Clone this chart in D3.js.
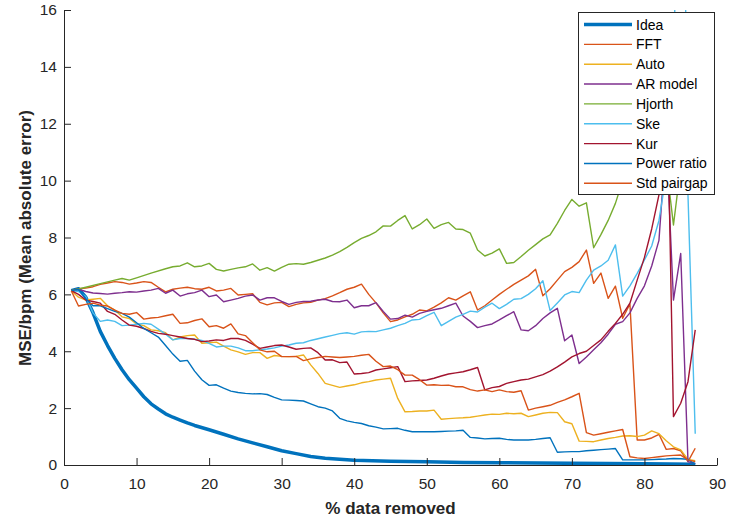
<!DOCTYPE html>
<html>
<head>
<meta charset="utf-8">
<script src="https://cdn.jsdelivr.net/npm/d3@7"></script>
<style>
  html, body { margin: 0; padding: 0; background: #fff; }
  svg { display: block; }
  text { font-family: "Liberation Sans", Arial, Helvetica, sans-serif; }
</style>
</head>
<body>
<svg id="chart" width="729" height="527"></svg>
<script>
// ---------------- data ----------------
const xTicks = [0, 10, 20, 30, 40, 50, 60, 70, 80, 90];
const yTicks = [0, 2, 4, 6, 8, 10, 12, 14, 16];
const seriesNames = ["Idea", "FFT", "Auto", "AR model", "Hjorth", "Ske", "Kur", "Power ratio", "Std pairgap"];
const seriesColors = ["#0072BD", "#D95319", "#EDB120", "#7E2F8E", "#77AC30", "#4DBEEE", "#A2142F", "#0072BD", "#D95319"];

const ideaData = [[1,6.13],[2,6.2],[3,5.9],[4,5.35],[5,4.7],[6,4.2],[7,3.75],[8,3.35],[9,3.0],[10,2.7],[11,2.4],[12,2.15],[13,1.97],[14,1.8],[15,1.68],[16,1.58],[17,1.48],[18,1.39],[20,1.24],[22,1.08],[24,0.92],[26,0.78],[28,0.64],[30,0.5],[32,0.4],[34,0.3],[36,0.24],[38,0.2],[40,0.17],[45,0.13],[50,0.11],[55,0.09],[60,0.08],[70,0.06],[80,0.04],[87,0.03]];

const fftData = [[1,6.13],[2,6.2],[3,6.22],[4,6.27],[5,6.35],[6,6.4],[7,6.45],[8,6.42],[9,6.36],[10,6.4],[11,6.45],[12,6.42],[13,6.25],[14,6.09],[15,6.18],[16,6.22],[17,6.25],[18,6.2],[19,6.18],[20,6.25],[21,6.12],[22,6.15],[23,6.21],[24,5.98],[25,6.0],[26,6.02],[27,5.72],[28,5.63],[29,5.7],[30,5.72],[31,5.57],[32,5.65],[33,5.7],[34,5.72],[35,5.8],[36,5.85],[37,5.95],[38,6.06],[39,6.18],[40,6.25],[41,6.36],[42,6.0],[43,5.7],[44,5.35],[45,5.04],[46,5.1],[47,5.21],[48,5.3],[49,5.45],[50,5.42],[51,5.55],[52,5.7],[53,5.88],[54,5.8],[55,5.95],[56,6.09],[57,5.45],[58,5.6],[59,5.8],[60,6.0],[61,6.18],[62,6.35],[63,6.5],[64,6.65],[65,6.88],[66,5.95],[67,6.2],[68,6.5],[69,6.8],[70,6.95],[71,7.15],[72,7.56],[73,6.39],[74,6.75],[75,5.86],[76,6.29],[77,5.16],[78,5.66],[79,0.88],[80,0.88],[81,0.95],[82,1.08],[83,0.55],[84,0.58],[85,0.5],[86,0.12],[87,0.59]];

const autoData = [[1,6.13],[2,5.9],[3,5.8],[4,5.83],[5,5.86],[6,5.6],[7,5.45],[8,5.21],[9,5.15],[10,4.96],[11,4.9],[12,4.75],[13,4.72],[14,4.65],[15,4.4],[16,4.5],[17,4.55],[18,4.57],[19,4.28],[20,4.3],[21,4.32],[22,4.18],[23,4.05],[24,3.98],[25,3.89],[26,3.95],[27,3.95],[28,3.75],[29,3.85],[30,3.82],[31,3.81],[32,3.82],[33,3.87],[34,3.52],[35,3.22],[36,2.87],[37,2.8],[38,2.73],[39,2.78],[40,2.82],[41,2.89],[42,2.93],[43,2.99],[44,3.02],[45,3.05],[46,2.34],[47,1.87],[48,1.88],[49,1.9],[50,1.9],[51,1.93],[52,1.61],[53,1.63],[54,1.65],[55,1.66],[56,1.68],[57,1.72],[58,1.76],[59,1.79],[60,1.78],[61,1.82],[62,1.8],[63,1.82],[64,1.7],[65,1.76],[66,1.82],[67,1.85],[68,1.84],[69,1.52],[70,1.45],[71,0.84],[72,0.83],[73,0.82],[74,0.88],[75,0.93],[76,0.97],[77,1.02],[78,1.03],[79,1.0],[80,1.05],[81,1.2],[82,1.1],[83,0.85],[84,0.64],[85,0.53],[86,0.2],[87,0.15]];

const arData = [[1,6.13],[2,6.18],[3,6.1],[4,6.05],[5,6.03],[6,6.01],[7,6.04],[8,6.06],[9,6.09],[10,6.08],[11,6.12],[12,6.15],[13,6.21],[14,6.04],[15,6.15],[16,5.94],[17,6.02],[18,6.06],[19,6.15],[20,5.92],[21,5.98],[22,5.74],[23,5.8],[24,5.86],[25,5.94],[26,5.98],[27,5.8],[28,5.88],[29,5.88],[30,5.75],[31,5.65],[32,5.72],[33,5.75],[34,5.76],[35,5.8],[36,5.83],[37,5.75],[38,5.74],[39,5.8],[40,5.53],[41,5.6],[42,5.6],[43,5.71],[44,5.4],[45,5.13],[46,5.15],[47,5.27],[48,5.2],[49,5.33],[50,5.4],[51,5.46],[52,5.51],[53,5.6],[54,5.69],[55,5.24],[56,5.05],[57,4.83],[58,4.9],[59,4.96],[60,5.1],[61,5.25],[62,5.39],[63,4.75],[64,4.72],[65,4.9],[66,5.15],[67,5.35],[68,5.51],[69,4.37],[70,4.57],[71,3.57],[72,3.8],[73,4.05],[74,4.3],[75,4.6],[76,4.95],[77,5.04],[78,5.35],[79,5.86],[80,6.3],[81,7.0],[82,7.9],[83,11.5],[84,5.8],[85,7.44],[86,0.12],[87,0.05]];

const hjorthData = [[1,6.13],[3,6.25],[5,6.38],[7,6.5],[8,6.56],[9,6.5],[10,6.58],[12,6.75],[14,6.9],[15,6.97],[16,7.0],[17,7.11],[18,6.97],[19,7.0],[20,7.09],[21,6.88],[22,6.82],[23,6.88],[24,6.93],[25,6.97],[26,7.07],[27,6.85],[28,6.94],[29,6.82],[30,6.95],[31,7.06],[32,7.08],[33,7.06],[34,7.12],[35,7.2],[36,7.28],[37,7.38],[38,7.5],[39,7.65],[40,7.82],[41,7.97],[42,8.07],[43,8.2],[44,8.41],[45,8.40],[46,8.6],[47,8.77],[48,8.30],[49,8.45],[50,8.65],[51,8.32],[52,8.45],[53,8.53],[54,8.30],[55,8.28],[56,8.15],[57,7.56],[58,7.35],[59,7.45],[60,7.6],[61,7.09],[62,7.12],[63,7.33],[64,7.55],[65,7.75],[66,7.95],[67,8.09],[68,8.5],[69,8.95],[70,9.34],[71,9.1],[72,9.22],[73,7.64],[74,8.1],[75,8.6],[76,9.2],[77,10.0],[78,11.5],[79,13],[80,15],[81,14],[82,12],[83,10.6],[84,8.44],[85,10.5],[86,13],[87,15]];

const skeData = [[1,6.13],[2,6.1],[3,5.92],[4,5.35],[5,5.05],[6,5.1],[7,5.05],[8,4.9],[9,4.92],[10,4.95],[11,4.98],[12,4.95],[13,4.78],[14,4.6],[15,4.4],[16,4.45],[17,4.45],[18,4.42],[19,4.38],[20,4.28],[21,4.15],[22,4.18],[23,4.18],[24,4.12],[25,4.02],[26,4.02],[27,4.05],[28,4.08],[29,4.12],[30,4.18],[31,4.22],[32,4.28],[33,4.3],[34,4.38],[35,4.44],[36,4.5],[37,4.56],[38,4.62],[39,4.65],[40,4.6],[41,4.68],[42,4.7],[43,4.69],[44,4.75],[45,4.81],[46,4.9],[47,4.98],[48,5.1],[49,5.12],[50,5.25],[51,5.37],[52,4.9],[53,5.05],[54,5.2],[55,5.3],[56,5.41],[57,5.38],[58,5.55],[59,5.69],[60,5.5],[61,5.65],[62,5.83],[63,5.85],[64,6.0],[65,6.2],[66,6.48],[67,5.43],[68,5.7],[69,5.98],[70,6.1],[71,6.06],[72,6.5],[73,6.85],[74,7.0],[75,7.2],[76,7.74],[77,5.94],[78,6.3],[79,6.74],[80,7.21],[81,7.7],[82,8.6],[83,10.2],[84,13],[85,30],[86,9.5],[87,1.1]];

const kurData = [[1,6.13],[2,6.0],[3,5.8],[4,5.75],[5,5.69],[6,5.4],[7,5.3],[8,5.1],[9,4.92],[10,4.88],[11,4.8],[12,4.7],[13,4.63],[14,4.6],[15,4.55],[16,4.5],[17,4.45],[18,4.42],[19,4.34],[20,4.36],[21,4.4],[22,4.38],[23,4.45],[24,4.45],[25,4.38],[26,4.25],[27,4.1],[28,4.15],[29,4.2],[30,4.22],[31,4.15],[32,4.07],[33,4.1],[34,4.12],[35,3.95],[36,3.69],[37,3.7],[38,3.6],[39,3.62],[40,3.2],[41,3.22],[42,3.25],[43,3.34],[44,3.38],[45,3.42],[46,3.46],[47,2.93],[48,2.96],[49,2.97],[50,2.99],[51,3.05],[52,3.13],[53,3.2],[54,3.24],[55,3.28],[56,3.35],[57,3.43],[58,2.64],[59,2.72],[60,2.76],[61,2.87],[62,2.93],[63,2.99],[64,3.02],[65,3.1],[66,3.18],[67,3.3],[68,3.45],[69,3.62],[70,3.8],[71,3.92],[72,4.0],[73,4.2],[74,4.4],[75,4.7],[76,4.98],[77,5.3],[78,5.69],[79,6.5],[80,7.3],[81,8.3],[82,9.5],[83,15],[84,1.7],[85,2.17],[86,2.93],[87,4.75]];

const powerData = [[1,6.13],[2,6.18],[3,5.85],[4,5.6],[5,5.6],[6,5.5],[7,5.4],[8,5.33],[9,5.2],[10,5.0],[11,4.8],[12,4.65],[13,4.5],[14,4.2],[15,3.9],[16,3.65],[17,3.68],[18,3.3],[19,3.0],[20,2.8],[21,2.82],[22,2.7],[23,2.6],[24,2.55],[25,2.52],[26,2.5],[27,2.51],[28,2.48],[29,2.38],[30,2.29],[31,2.28],[32,2.27],[33,2.25],[34,2.15],[35,2.05],[36,2.0],[37,1.9],[38,1.64],[39,1.55],[40,1.5],[41,1.46],[42,1.38],[43,1.33],[44,1.27],[45,1.28],[46,1.29],[47,1.22],[48,1.17],[49,1.17],[50,1.17],[51,1.17],[52,1.18],[53,1.19],[54,1.2],[55,1.22],[56,0.97],[57,0.95],[58,0.92],[59,0.93],[60,0.94],[61,0.9],[62,0.88],[63,0.88],[64,0.88],[65,0.9],[66,0.93],[67,0.96],[68,0.45],[69,0.46],[70,0.47],[71,0.47],[72,0.5],[73,0.52],[74,0.54],[75,0.56],[76,0.58],[77,0.18],[78,0.18],[79,0.18],[80,0.18],[81,0.19],[82,0.2],[83,0.21],[84,0.23],[85,0.22],[86,0.2],[87,0.02]];

const stdData = [[1,6.13],[2,5.59],[3,5.65],[4,5.69],[5,5.62],[6,5.59],[7,5.45],[8,5.33],[9,5.3],[10,5.36],[11,5.13],[12,5.17],[13,5.19],[14,5.25],[15,5.3],[16,4.98],[17,5.0],[18,5.08],[19,5.14],[20,4.86],[21,4.9],[22,4.81],[23,4.96],[24,4.61],[25,4.55],[26,4.3],[27,4.05],[28,3.98],[29,4.0],[30,3.81],[31,3.81],[32,3.82],[33,3.67],[34,3.73],[35,3.78],[36,3.82],[37,3.8],[38,3.78],[39,3.8],[40,3.82],[41,3.86],[42,3.89],[43,3.65],[44,3.46],[45,3.48],[46,3.35],[47,3.16],[48,3.16],[49,3.0],[50,2.81],[51,2.82],[52,2.8],[53,2.81],[54,2.75],[55,2.75],[56,2.65],[57,2.6],[58,2.64],[59,2.58],[60,2.64],[61,2.58],[62,2.56],[63,2.61],[64,1.93],[65,2.0],[66,2.05],[67,2.1],[68,2.2],[69,2.29],[70,2.4],[71,2.52],[72,1.14],[73,1.05],[74,1.1],[75,1.15],[76,1.2],[77,1.25],[78,0.29],[79,0.25],[80,0.23],[81,0.26],[82,0.29],[83,0.32],[84,0.34],[85,0.35],[86,0.18],[87,0.12]];

const seriesData = [ideaData, fftData, autoData, arData, hjorthData, skeData, kurData, powerData, stdData];
const seriesWidths = [3.5, 1.4, 1.4, 1.4, 1.4, 1.4, 1.4, 1.4, 1.4];

// ---------------- drawing ----------------
const svg = d3.select("#chart");
const axisColor = "#262626";
const x = d3.scaleLinear().domain([0, 90]).range([64, 717]);
const y = d3.scaleLinear().domain([0, 16]).range([465, 10]);

svg.append("defs").append("clipPath").attr("id", "plotclip")
  .append("rect").attr("x", 64).attr("y", 10).attr("width", 653).attr("height", 455);

const plot = svg.append("g").attr("clip-path", "url(#plotclip)");
const line = d3.line().x(d => x(d[0])).y(d => y(d[1]));

seriesData.forEach((data, i) => {
  plot.append("path")
    .datum(data)
    .attr("d", line)
    .attr("fill", "none")
    .attr("stroke", seriesColors[i])
    .attr("stroke-width", seriesWidths[i])
    .attr("stroke-linejoin", "round");
});

// axes
const xAxis = svg.append("g").attr("transform", "translate(0,465)")
  .call(d3.axisBottom(x).tickValues(xTicks).tickSizeInner(-7).tickSizeOuter(0).tickPadding(13));
const yAxis = svg.append("g").attr("transform", "translate(64,0)")
  .call(d3.axisLeft(y).tickValues(yTicks).tickSizeInner(-7).tickSizeOuter(0).tickPadding(7));

[xAxis, yAxis].forEach(g => {
  g.select(".domain").attr("stroke", axisColor).attr("stroke-width", 1);
  g.selectAll(".tick line").attr("stroke", axisColor).attr("stroke-width", 1);
  g.selectAll(".tick text").attr("fill", axisColor)
    .style("font-size", "15.5px").style("font-family", "Liberation Sans, Arial, sans-serif");
});

// axis labels
svg.append("text")
  .attr("x", 390.5).attr("y", 514)
  .attr("text-anchor", "middle")
  .attr("fill", axisColor)
  .style("font-size", "17px").style("font-weight", "bold")
  .text("% data removed");

svg.append("text")
  .attr("transform", "translate(31,238) rotate(-90)")
  .attr("text-anchor", "middle")
  .attr("fill", axisColor)
  .style("font-size", "17px").style("font-weight", "bold")
  .text("MSE/bpm (Mean absolute error)");

// legend
const legend = svg.append("g");
legend.append("rect")
  .attr("x", 578.5).attr("y", 12.5).attr("width", 136).attr("height", 182)
  .attr("fill", "#fff").attr("stroke", axisColor).attr("stroke-width", 1);

seriesNames.forEach((name, i) => {
  const cy = 24.5 + i * 19.85;
  legend.append("line")
    .attr("x1", 584).attr("x2", 632).attr("y1", cy).attr("y2", cy)
    .attr("stroke", seriesColors[i]).attr("stroke-width", seriesWidths[i]);
  legend.append("text")
    .attr("x", 636).attr("y", cy + 5)
    .attr("fill", "#000")
    .style("font-size", "14px")
    .text(name);
});
</script>
</body>
</html>
